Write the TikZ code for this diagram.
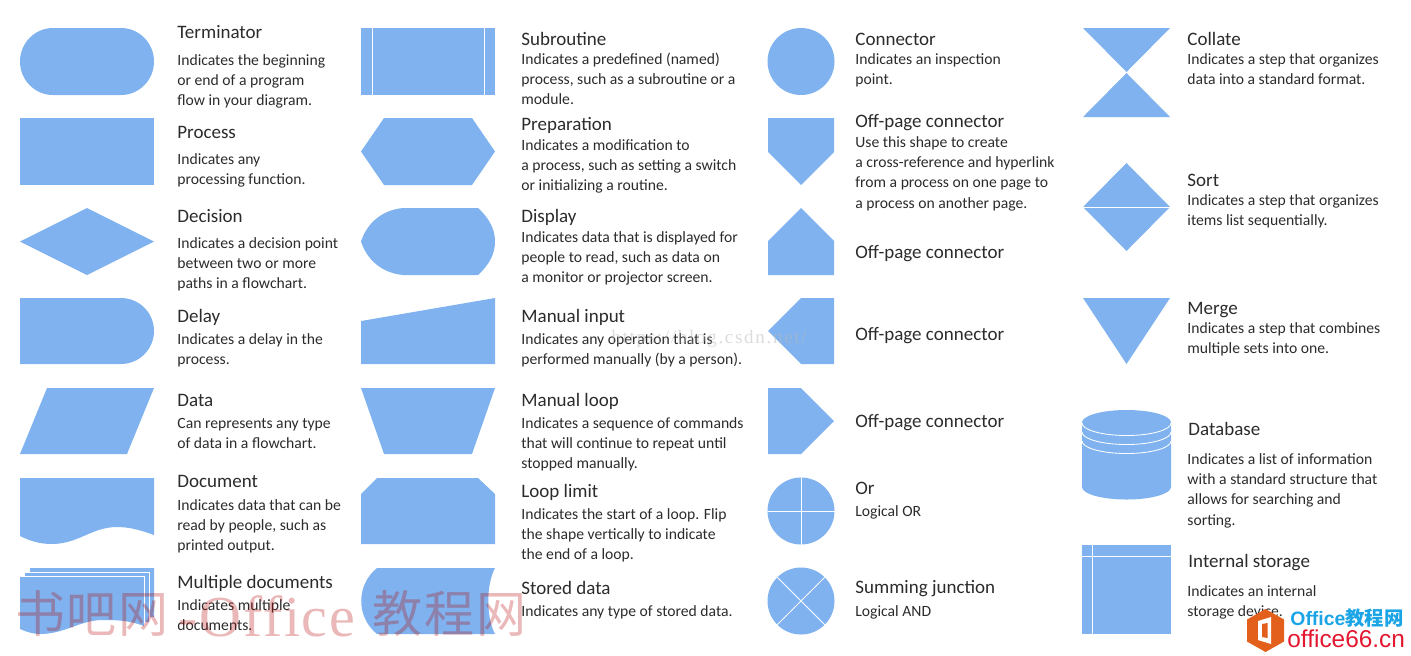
\documentclass[tikz,border=0pt]{standalone}
\usepackage{fontspec}
\setmainfont{Carlito}
\newfontfamily\cjkwm{Noto Sans CJK SC}
\newfontfamily\serifwm{Liberation Serif}
\newfontfamily\serifsp[LetterSpace=9]{Liberation Serif}
\newfontfamily\serifof[LetterSpace=3]{Liberation Serif}
\newfontfamily\sanswm{Liberation Sans}
\definecolor{shapeblue}{HTML}{7FB2EE}
\definecolor{inkdark}{HTML}{2B2B2B}
\definecolor{logoorange}{HTML}{E2601C}
\definecolor{logoblue}{HTML}{1BA5E6}
\definecolor{logored}{HTML}{E3172F}
\tikzset{
  x=0.5pt,y=-0.5pt,
  fillshape/.style={fill=shapeblue,draw=none},
  whiteline/.style={draw=white,line width=0.42pt},
  titletext/.style={anchor=base west,inner sep=0pt,font=\fontsize{9.5}{10}\selectfont,text=inkdark},
  bodytext/.style={anchor=north west,inner sep=0pt,align=left,font=\fontsize{7.83}{10.1}\selectfont,text=inkdark},
  wmred/.style={anchor=base west,inner sep=0pt,text=red!70!black,opacity=0.28},
}
\newcommand{\ttl}[4]{\node[titletext] (#1) at (#2,#3) {#4};}
\newcommand{\bdy}[4]{\node[bodytext] (#1) at (#2,#3-12) {\rule{0pt}{6pt}#4};}
\begin{document}
\begin{tikzpicture}
\useasboundingbox (0,0) rectangle (1411,655);
% column 1 shapes
\fill[fillshape] (53,28) -- (121,28) arc[start angle=90,end angle=-90,x radius=33,y radius=-33.5] -- (53,95) arc[start angle=-90,end angle=-270,x radius=33,y radius=-33.5] -- cycle;
\fill[fillshape] (20,118) rectangle (154,185);
\fill[fillshape] (20,241.5) -- (87,208) -- (154,241.5) -- (87,275) -- cycle;
\fill[fillshape] (20,298) -- (121,298) arc[start angle=90,end angle=-90,x radius=33,y radius=-33] -- (20,364) -- cycle;
\fill[fillshape] (20,454) -- (47,388) -- (154,388) -- (127,454) -- cycle;
\fill[fillshape] (20,478) -- (154,478) -- (154,535) .. controls (138,529) and (127,527) .. (117,527) .. controls (92,527) and (78,544) .. (52,544) .. controls (40,544) and (30,541) .. (20,536) -- cycle;
% multiple documents
\fill[fillshape] (30,568) -- (154,568) -- (154,617) -- (149,617) -- (149,622) -- (144,622) -- (144,626) .. controls (128,620) and (115,620) .. (103,620) .. controls (80,620) and (65,634) .. (40,634) .. controls (33,634) and (27,632) .. (20,629) -- (20,576.7) -- (25,576.7) -- (25,572.7) -- (30,572.7) -- cycle;
\draw[whiteline] (25,572.7) -- (149,572.7) -- (149,622);
\draw[whiteline] (20,576.7) -- (144,576.7) -- (144,626);
% column 2 shapes
\fill[fillshape] (361,28) rectangle (495,95);
\draw[whiteline] (372,28) -- (372,95) (484,28) -- (484,95);
\fill[fillshape] (361,151.5) -- (384,118) -- (472,118) -- (495,151.5) -- (472,185) -- (384,185) -- cycle;
\fill[fillshape] (403,208) -- (478,208) .. controls (489,218) and (495,229) .. (495,241.5) .. controls (495,254) and (489,265) .. (478,275) -- (403,275) .. controls (382,273) and (367,260) .. (361,241.5) .. controls (367,223) and (382,210) .. (403,208) -- cycle;
\fill[fillshape] (361,321) -- (495,298) -- (495,364) -- (361,364) -- cycle;
\fill[fillshape] (361,388) -- (495,388) -- (472,454) -- (384,454) -- cycle;
\fill[fillshape] (361,494) -- (377,478) -- (478,478) -- (495,494) -- (495,544) -- (361,544) -- cycle;
\fill[fillshape] (377,568) -- (495,568) .. controls (486,585) and (486,617) .. (495,634) -- (377,634) .. controls (356,617) and (356,585) .. (377,568) -- cycle;
% column 3 shapes
\fill[fillshape] (801,61.5) circle[radius=33.5];
\fill[fillshape] (768,118) -- (834,118) -- (834,152) -- (801,185) -- (768,152) -- cycle;
\fill[fillshape] (768,275) -- (768,241) -- (801,208) -- (834,241) -- (834,275) -- cycle;
\fill[fillshape] (834,298) -- (834,364) -- (801,364) -- (768,331) -- (801,298) -- cycle;
\fill[fillshape] (768,388) -- (801,388) -- (834,421) -- (801,454) -- (768,454) -- cycle;
\fill[fillshape] (801,511) circle[radius=33.5];
\draw[whiteline] (767.5,511) -- (834.5,511) (801,477.5) -- (801,544.5);
\fill[fillshape] (801,601) circle[radius=33.5];
\draw[whiteline] (777.3,577.3) -- (824.7,624.7) (824.7,577.3) -- (777.3,624.7);
% column 4 shapes
\fill[fillshape] (1083,28) -- (1170,28) -- (1126.5,72) -- cycle;
\fill[fillshape] (1083,117) -- (1170,117) -- (1126.5,73) -- cycle;
\fill[fillshape] (1083,207) -- (1126.5,163) -- (1170,207) -- (1126.5,251) -- cycle;
\draw[whiteline] (1083,207) -- (1170,207);
\fill[fillshape] (1083,298) -- (1170,298) -- (1126.5,364) -- cycle;
\fill[fillshape] (1082,422.5) arc[start angle=180,end angle=0,x radius=44.5,y radius=-12.5] -- (1171,487) arc[start angle=0,end angle=-180,x radius=44.5,y radius=-12.5] -- cycle;
\draw[whiteline] (1082,423) arc[start angle=180,end angle=360,x radius=44.5,y radius=-12.5];
\draw[whiteline] (1082,432) arc[start angle=180,end angle=360,x radius=44.5,y radius=-12.5];
\draw[whiteline] (1082,441) arc[start angle=180,end angle=360,x radius=44.5,y radius=-12.5];
\fill[fillshape] (1082,545) rectangle (1171,634);
\draw[whiteline] (1092.5,545) -- (1092.5,634) (1082,556) -- (1171,556);
% column 1 text
\ttl{t1}{177}{38}{Terminator}
\bdy{b1}{177}{65}{Indicates the beginning\\or end of a program\\flow in your diagram.}
\ttl{t2}{177}{138}{Process}
\bdy{b2}{177}{164}{Indicates any\\processing function.}
\ttl{t3}{177}{222}{Decision}
\bdy{b3}{177}{248}{Indicates a decision point\\between two or more\\paths in a flowchart.}
\ttl{t4}{177}{322}{Delay}
\bdy{b4}{177}{344}{Indicates a delay in the\\process.}
\ttl{t5}{177}{406}{Data}
\bdy{b5}{177}{428}{Can represents any type\\of data in a flowchart.}
\ttl{t6}{177}{487}{Document}
\bdy{b6}{177}{510}{Indicates data that can be\\read by people, such as\\printed output.}
\ttl{t7}{177}{588}{Multiple documents}
\bdy{b7}{177}{610}{Indicates multiple\\documents.}
% column 2 text
\ttl{t8}{521}{45}{Subroutine}
\bdy{b8}{521}{64}{Indicates a predefined (named)\\process, such as a subroutine or a\\module.}
\ttl{t9}{521}{130}{Preparation}
\bdy{b9}{521}{150}{Indicates a modification to\\a process, such as setting a switch\\or initializing a routine.}
\ttl{t10}{521}{222}{Display}
\bdy{b10}{521}{242}{Indicates data that is displayed for\\people to read, such as data on\\a monitor or projector screen.}
\ttl{t11}{521}{322}{Manual input}
\bdy{b11}{521}{344}{Indicates any operation that is\\performed manually (by a person).}
\ttl{t12}{521}{406}{Manual loop}
\bdy{b12}{521}{428}{Indicates a sequence of commands\\that will continue to repeat until\\stopped manually.}
\ttl{t13}{521}{497}{Loop limit}
\bdy{b13}{521}{519}{Indicates the start of a loop. Flip\\the shape vertically to indicate\\the end of a loop.}
\ttl{t14}{521}{594}{Stored data}
\bdy{b14}{521}{616}{Indicates any type of stored data.}
% column 3 text
\ttl{t15}{855}{45}{Connector}
\bdy{b15}{855}{64}{Indicates an inspection\\point.}
\ttl{t16}{855}{127}{Off-page connector}
\bdy{b16}{855}{147}{Use this shape to create\\a cross-reference and hyperlink\\from a process on one page to\\a process on another page.}
\ttl{t17}{855}{258}{Off-page connector}
\ttl{t18}{855}{340}{Off-page connector}
\ttl{t19}{855}{427}{Off-page connector}
\ttl{t20}{855}{494}{Or}
\bdy{b20}{855}{516}{Logical OR}
\ttl{t21}{855}{593}{Summing junction}
\bdy{b21}{855}{616}{Logical AND}
% column 4 text
\ttl{t22}{1187}{45}{Collate}
\bdy{b22}{1187}{64}{Indicates a step that organizes\\data into a standard format.}
\ttl{t23}{1187}{186}{Sort}
\bdy{b23}{1187}{205}{Indicates a step that organizes\\items list sequentially.}
\ttl{t24}{1187}{314}{Merge}
\bdy{b24}{1187}{333}{Indicates a step that combines\\multiple sets into one.}
\ttl{t25}{1188}{435}{Database}
\bdy{b25}{1187}{464}{Indicates a list of information\\with a standard structure that\\allows for searching and\\sorting.}
\ttl{t26}{1188}{567}{Internal storage}
\bdy{b26}{1187}{596}{Indicates an internal\\storage device.}
% watermarks
\node[anchor=base west,inner sep=0pt,text=gray!55,opacity=0.5,font=\serifsp\fontsize{9.5}{10}\selectfont] (wm1) at (611,343) {https://blog.csdn.net/};
\node[wmred,font=\cjkwm\fontsize{25}{25}\selectfont] (wm2a) at (15,632) {书};
\node[wmred,font=\cjkwm\fontsize{25}{25}\selectfont] (wm2b) at (66,632) {吧};
\node[wmred,font=\cjkwm\fontsize{25}{25}\selectfont] (wm2c) at (118,632) {网};
\node[wmred,font=\serifof\fontsize{29}{29}\selectfont] (wm3) at (178,636) {-Office};
\node[wmred,font=\cjkwm\fontsize{25}{25}\selectfont] (wm4a) at (372,632) {教};
\node[wmred,font=\cjkwm\fontsize{25}{25}\selectfont] (wm4b) at (424,632) {程};
\node[wmred,font=\cjkwm\fontsize{25}{25}\selectfont] (wm4c) at (476,632) {网};
% logo
\fill[logoorange] (1265.5,609) -- (1284,619.5) -- (1284,641.5) -- (1265.5,652) -- (1247,641.5) -- (1247,619.5) -- cycle;
\fill[white] (1258,621) -- (1271,617) -- (1271,644) -- (1258,640) -- cycle;
\fill[logoorange] (1262,624) -- (1267.5,623) -- (1267.5,638) -- (1262,637) -- cycle;
\node[anchor=base west,inner sep=0pt,text=logoblue,font=\sanswm\bfseries\fontsize{9.7}{11}\selectfont] (wm5) at (1290,625) {Office\cjkwm 教程网};
\node[anchor=base west,inner sep=0pt,text=logored,font=\sanswm\fontsize{12.2}{13}\selectfont] (wm6) at (1287,647) {office66.cn};
\end{tikzpicture}
\end{document}
